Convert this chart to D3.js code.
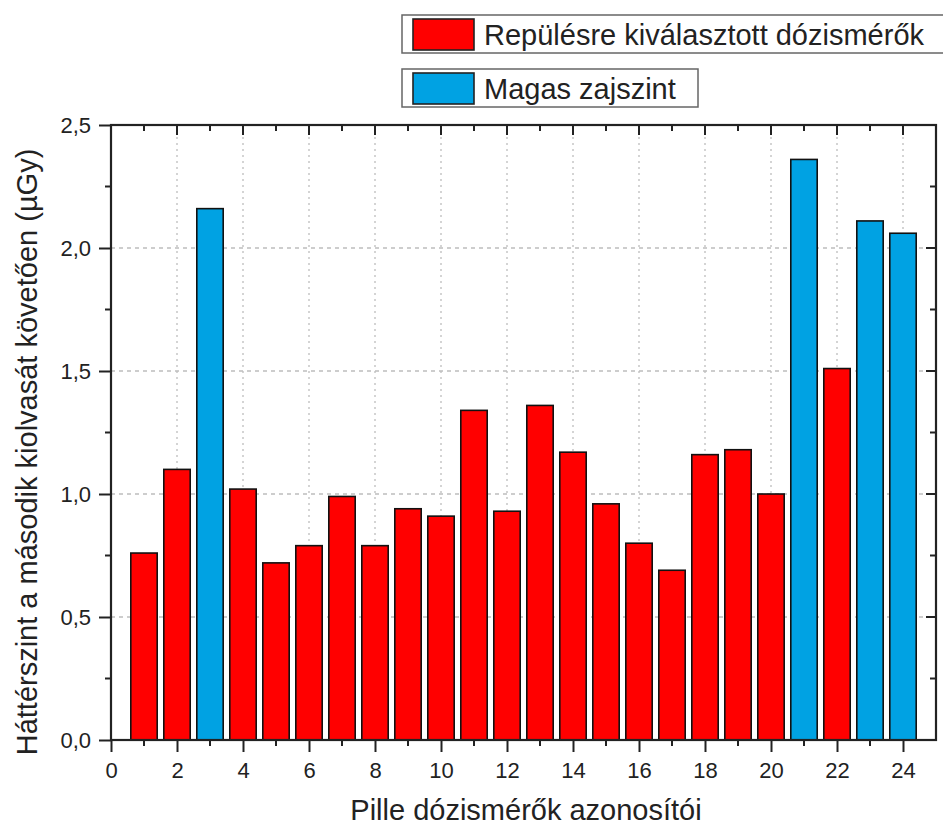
<!DOCTYPE html>
<html><head><meta charset="utf-8">
<script src="https://cdn.jsdelivr.net/npm/d3@7"></script>
<style>body{margin:0;background:#fff}svg{display:block}text{font-family:"Liberation Sans",Arial,sans-serif;fill:#222}</style>
</head><body><svg id="c" width="943" height="828"></svg>
<script>
const ids = [1,2,3,4,5,6,7,8,9,10,11,12,13,14,15,16,17,18,19,20,21,22,23,24];
const values = [0.76,1.10,2.16,1.02,0.72,0.79,0.99,0.79,0.94,0.91,1.34,0.93,1.36,1.17,0.96,0.80,0.69,1.16,1.18,1.00,2.36,1.51,2.11,2.06];
const groups = ["r","r","b","r","r","r","r","r","r","r","r","r","r","r","r","r","r","r","r","r","b","r","b","b"];
const seriesNames = ["Repülésre kiválasztott dózismérők","Magas zajszint"];
const seriesColors = ["#ff0000","#00a2e3"];
const xTicks = [0,2,4,6,8,10,12,14,16,18,20,22,24];
const yTicks = [0,0.5,1.0,1.5,2.0,2.5];
const xTitle = "Pille dózismérők azonosítói";
const yTitle = "Háttérszint a második kiolvasát követően (µGy)";

const svg = d3.select("#c");
const L=111, R=936, T=125, B=740;
const x = d3.scaleLinear().domain([0,25]).range([L,R]);
const y = d3.scaleLinear().domain([0,2.5]).range([B,T]);
const colorOf = g => g==="r"?seriesColors[0]:seriesColors[1];

// grid
svg.append("g").selectAll("line").data(xTicks.filter(d=>d>0)).join("line")
  .attr("x1",d=>x(d)).attr("x2",d=>x(d)).attr("y1",T).attr("y2",B)
  .attr("stroke","#bdbdbd").attr("stroke-width",1.3).attr("stroke-dasharray","2,4");
svg.append("g").selectAll("line").data(yTicks.filter(d=>d>0&&d<2.5)).join("line")
  .attr("x1",L).attr("x2",R).attr("y1",d=>y(d)).attr("y2",d=>y(d))
  .attr("stroke","#bdbdbd").attr("stroke-width",1.3).attr("stroke-dasharray","4,4");

// bars
const bw = x(0.8)-x(0);
svg.append("g").selectAll("rect").data(ids).join("rect")
  .attr("x",(d)=>x(d)-bw/2).attr("width",bw)
  .attr("y",(d,i)=>y(values[i])).attr("height",(d,i)=>B-y(values[i]))
  .attr("fill",(d,i)=>colorOf(groups[i])).attr("stroke","#111").attr("stroke-width",1.6);

// axes
const minorX = d3.range(1,25,2);
const minorY = [0.25,0.75,1.25,1.75,2.25];
const bottom = d3.axisBottom(x).tickValues(xTicks).tickSize(12).tickPadding(10).tickFormat(d3.format("d"));
const gb = svg.append("g").attr("transform",`translate(0,${B})`).call(bottom);
const left = d3.axisLeft(y).tickValues(yTicks).tickSize(12).tickPadding(8).tickFormat(d=>d3.format(".1f")(d).replace(".",","));
const gl = svg.append("g").attr("transform",`translate(${L},0)`).call(left);
[gb,gl].forEach(g=>{g.select(".domain").remove();g.selectAll("line").attr("stroke","#222").attr("stroke-width",2);g.selectAll("text").style("font-size","22px").attr("fill","#222");});
// minor ticks
svg.append("g").selectAll("line").data(minorX).join("line").attr("x1",d=>x(d)).attr("x2",d=>x(d)).attr("y1",B).attr("y2",B+6).attr("stroke","#222").attr("stroke-width",2);
svg.append("g").selectAll("line").data(minorY).join("line").attr("y1",d=>y(d)).attr("y2",d=>y(d)).attr("x1",L).attr("x2",L-6).attr("stroke","#222").attr("stroke-width",2);
// top/right inward ticks
svg.append("g").selectAll("line").data(xTicks.concat(minorX)).join("line").attr("x1",d=>x(d)).attr("x2",d=>x(d)).attr("y1",T).attr("y2",d=>T+(d%2===0?10:6)).attr("stroke","#222").attr("stroke-width",2);
svg.append("g").selectAll("line").data(yTicks.concat(minorY)).join("line").attr("y1",d=>y(d)).attr("y2",d=>y(d)).attr("x1",R).attr("x2",d=>R-(minorY.includes(d)?6:10)).attr("stroke","#222").attr("stroke-width",2);
// frame
svg.append("rect").attr("x",L).attr("y",T).attr("width",R-L).attr("height",B-T).attr("fill","none").attr("stroke","#222").attr("stroke-width",2.2);

// titles
svg.append("text").attr("x",526).attr("y",820).attr("text-anchor","middle").style("font-size","29px").text(xTitle);
svg.append("text").attr("transform",`translate(37,452) rotate(-90)`).attr("text-anchor","middle").style("font-size","29px").text(yTitle);

// legend
const leg = [{y:15,w:560},{y:69,w:296}];
seriesNames.forEach((n,i)=>{
  const g = svg.append("g").attr("transform",`translate(402,${leg[i].y})`);
  g.append("rect").attr("x",0).attr("y",0).attr("width",leg[i].w).attr("height",38).attr("fill","#fff").attr("stroke","#666").attr("stroke-width",1.5);
  g.append("rect").attr("x",11).attr("y",4).attr("width",61).attr("height",31).attr("fill",seriesColors[i]).attr("stroke","#222").attr("stroke-width",1.6);
  g.append("text").attr("x",82).attr("y",30).style("font-size","29px").text(n);
});
</script></body></html>
